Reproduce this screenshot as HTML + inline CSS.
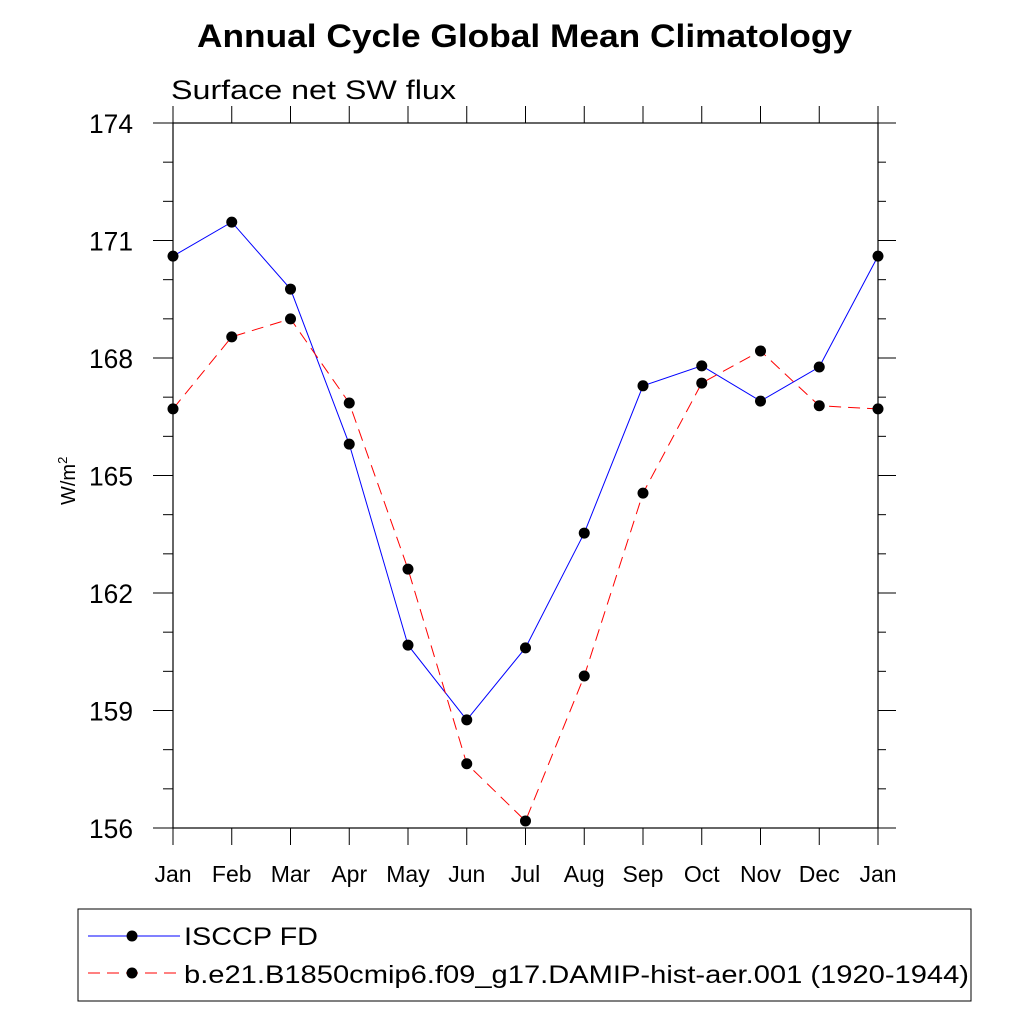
<!DOCTYPE html>
<html><head><meta charset="utf-8"><style>
html,body{margin:0;padding:0;background:#fff;}
svg{display:block;font-family:"Liberation Sans",sans-serif;}
</style></head><body>
<svg id="chart" width="1024" height="1024" viewBox="0 0 1024 1024">
<text x="197" y="47" font-size="32" font-weight="bold" textLength="655" lengthAdjust="spacingAndGlyphs">Annual Cycle Global Mean Climatology</text>
<text x="171" y="99" font-size="27" textLength="285" lengthAdjust="spacingAndGlyphs">Surface net SW flux</text>
<text transform="translate(75,505) rotate(-90)" font-size="20">W/m<tspan dy="-8" font-size="13">2</tspan></text>
<g id="axes"></g>
<g id="series"></g>
<g>
<rect x="78" y="909" width="893" height="92" fill="none" stroke="#000" stroke-width="1"/>
<g>
<line x1="88" y1="936" x2="180" y2="936" stroke="#0000ff" stroke-width="1"/>
<circle cx="132" cy="936" r="5.5" fill="#000"/>
<text x="184" y="945" font-size="25" textLength="134" lengthAdjust="spacingAndGlyphs">ISCCP FD</text>
</g>
<g>
<line x1="88" y1="973" x2="180" y2="973" stroke="#ff0000" stroke-width="1" stroke-dasharray="12,7"/>
<circle cx="132" cy="973" r="5.5" fill="#000"/>
<text x="184" y="983" font-size="25" textLength="785" lengthAdjust="spacingAndGlyphs">b.e21.B1850cmip6.f09_g17.DAMIP-hist-aer.001 (1920-1944)</text>
</g>
</g>
</svg>
<script>
const months = ["Jan","Feb","Mar","Apr","May","Jun","Jul","Aug","Sep","Oct","Nov","Dec","Jan"];
const isccpValues = [170.6,171.47,169.76,165.8,160.67,158.76,160.6,163.53,167.29,167.8,166.9,167.77,170.6];
const modelValues = [166.7,168.54,169.0,166.85,162.61,157.64,156.18,159.88,164.55,167.36,168.18,166.78,166.7];
const yTicks = [156,159,162,165,168,171,174];
const yMin = 156, yMax = 174;
const X0 = 173, X1 = 878, Y0 = 123, Y1 = 828;
const NS = "http://www.w3.org/2000/svg";
function xs(i){ return X0 + i*(X1-X0)/(months.length-1); }
function ys(v){ return Y1 - (v-yMin)/(yMax-yMin)*(Y1-Y0); }
function mk(tag, attrs, parent){ const e=document.createElementNS(NS,tag); for(const k in attrs) e.setAttribute(k,attrs[k]); parent.appendChild(e); return e; }
const axes = document.getElementById('axes');
const frame = mk('rect',{x:X0,y:Y0,width:X1-X0,height:Y1-Y0,fill:'none',stroke:'#000','stroke-width':1.2},axes);


for(let v=yMin; v<=yMax+0.001; v+=1){
  const y=ys(v); const major = Math.abs(v-Math.round(v/3)*3)<0.001;
  const len = major?20:10;
  mk('line',{x1:X0-len,y1:y,x2:X0,y2:y,stroke:'#000','stroke-width':1},axes);
  mk('line',{x1:X1,y1:y,x2:X1+len-2,y2:y,stroke:'#000','stroke-width':1},axes);
}
yTicks.forEach(v=>{
  const t=mk('text',{x:133,y:ys(v)+10,'text-anchor':'end','font-size':27,textLength:44,lengthAdjust:'spacingAndGlyphs'},axes);
  t.textContent=v;
  
  
});
months.forEach((m,i)=>{
  const x=xs(i);
  mk('line',{x1:x,y1:Y1,x2:x,y2:Y1+17,stroke:'#000','stroke-width':1},axes);
  mk('line',{x1:x,y1:Y0-17,x2:x,y2:Y0,stroke:'#000','stroke-width':1},axes);
  const t=mk('text',{x:x,y:882,'text-anchor':'middle','font-size':23},axes);
  t.textContent=m;
  
  
});
const series = document.getElementById('series');
function drawSeries(vals,color,dash,name){
  const g=mk('g',{},series);
  
  
  const pts=vals.map((v,i)=>xs(i)+','+ys(v)).join(' ');
  const a={points:pts,fill:'none',stroke:color,'stroke-width':1};
  if(dash) a['stroke-dasharray']=dash;
  mk('polyline',a,g);
  vals.forEach((v,i)=>{
    const c=mk('circle',{cx:xs(i),cy:ys(v),r:5.5,fill:'#000'},g);
    
    
  });
}
drawSeries(isccpValues,'#0000ff',null,'isccp-series');
drawSeries(modelValues,'#ff0000','12,7','model-series');
</script>
</body></html>
